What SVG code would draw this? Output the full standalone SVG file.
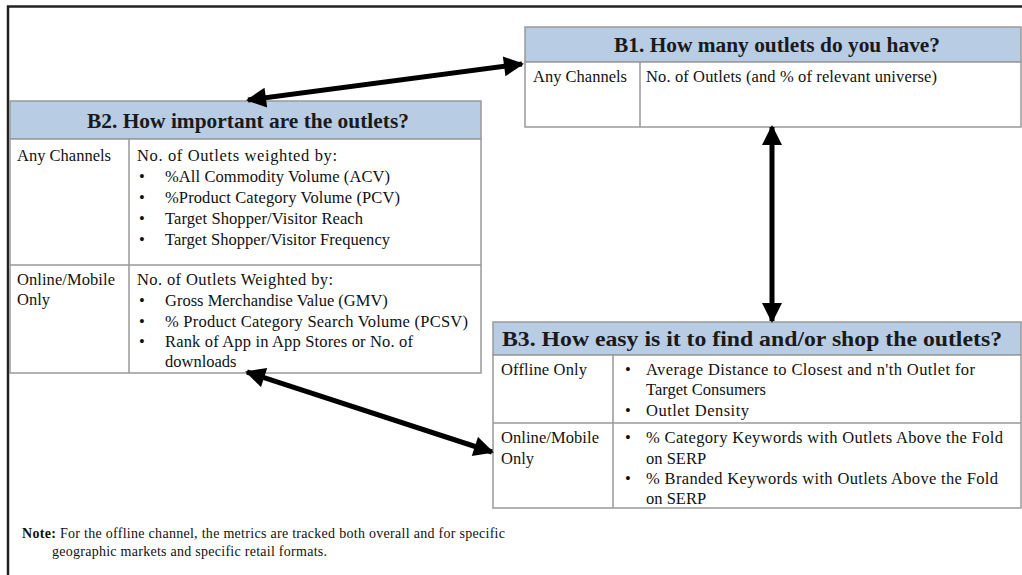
<svg xmlns="http://www.w3.org/2000/svg" width="1022" height="575" viewBox="0 0 1022 575">
<style>
.t{font-family:"Liberation Serif","Times New Roman",serif;font-size:16.5px;fill:#111}
.h{font-family:"Liberation Serif","Times New Roman",serif;font-size:21px;font-weight:bold;fill:#1a1a1a}
.n{font-family:"Liberation Serif","Times New Roman",serif;font-size:14px;fill:#111}
.hd{fill:#b8cce4;stroke:#999;stroke-width:1.5}
.cell{fill:#fff;stroke:#999;stroke-width:1.5}
.ln{stroke:#999;stroke-width:1.5}
.arr{stroke:#000;stroke-width:5;fill:none}
</style>
<defs>
<marker id="ah" viewBox="0 0 10 10" refX="9" refY="5" markerWidth="22" markerHeight="20" markerUnits="userSpaceOnUse" orient="auto-start-reverse">
<path d="M0,0 L10,5 L0,10 z" fill="#000"/>
</marker>
</defs>
<rect x="0" y="0" width="1022" height="575" fill="#fff"/>
<path d="M8,575 L8,6.5 L1022,6.5" fill="none" stroke="#222" stroke-width="2.5"/>

<g id="b1">
<rect class="hd" x="525" y="27" width="496" height="35"/>
<rect class="cell" x="525" y="62" width="496" height="65"/>
<line class="ln" x1="640" y1="62" x2="640" y2="127"/>
<text class="h" x="614" y="52" textLength="326" lengthAdjust="spacingAndGlyphs">B1. How many outlets do you have?</text>
<text class="t" x="533" y="82" textLength="94" lengthAdjust="spacing">Any Channels</text>
<text class="t" x="646" y="82" textLength="291" lengthAdjust="spacing">No. of Outlets (and % of relevant universe)</text>
</g>

<g id="b2">
<rect class="hd" x="10" y="101" width="471" height="38"/>
<rect class="cell" x="10" y="139" width="471" height="234"/>
<line class="ln" x1="10" y1="265" x2="481" y2="265"/>
<line class="ln" x1="129" y1="139" x2="129" y2="373"/>
<text class="h" x="87" y="128" textLength="322" lengthAdjust="spacingAndGlyphs">B2. How important are the outlets?</text>
<text class="t" x="17" y="161" textLength="94" lengthAdjust="spacing">Any Channels</text>
<text class="t" x="137" y="161" textLength="200" lengthAdjust="spacing">No. of Outlets weighted by:</text>
<text class="t" x="139" y="182">•</text><text class="t" x="165" y="182" textLength="225" lengthAdjust="spacing">%All Commodity Volume (ACV)</text>
<text class="t" x="139" y="203">•</text><text class="t" x="165" y="203" textLength="235" lengthAdjust="spacing">%Product Category Volume (PCV)</text>
<text class="t" x="139" y="224">•</text><text class="t" x="165" y="224" textLength="198" lengthAdjust="spacing">Target Shopper/Visitor Reach</text>
<text class="t" x="139" y="245">•</text><text class="t" x="165" y="245" textLength="225" lengthAdjust="spacing">Target Shopper/Visitor Frequency</text>
<text class="t" x="17" y="285" textLength="98" lengthAdjust="spacing">Online/Mobile</text>
<text class="t" x="17" y="305">Only</text>
<text class="t" x="137" y="285" textLength="196" lengthAdjust="spacing">No. of Outlets Weighted by:</text>
<text class="t" x="139" y="306">•</text><text class="t" x="165" y="306">Gross Merchandise Value (GMV)</text>
<text class="t" x="139" y="327">•</text><text class="t" x="165" y="327" textLength="303" lengthAdjust="spacing">% Product Category Search Volume (PCSV)</text>
<text class="t" x="139" y="347">•</text><text class="t" x="165" y="347" textLength="248" lengthAdjust="spacing">Rank of App in App Stores or No. of</text>
<text class="t" x="165" y="367">downloads</text>
</g>

<g id="b3">
<rect class="hd" x="493" y="322" width="528" height="33"/>
<rect class="cell" x="493" y="355" width="528" height="153"/>
<line class="ln" x1="493" y1="423" x2="1021" y2="423"/>
<line class="ln" x1="613" y1="355" x2="613" y2="508"/>
<text class="h" x="502" y="346" textLength="500" lengthAdjust="spacingAndGlyphs">B3. How easy is it to find and/or shop the outlets?</text>
<text class="t" x="501" y="375" textLength="86" lengthAdjust="spacing">Offline Only</text>
<text class="t" x="625" y="375">•</text><text class="t" x="646" y="375" textLength="329" lengthAdjust="spacing">Average Distance to Closest and n'th Outlet for</text>
<text class="t" x="646" y="395">Target Consumers</text>
<text class="t" x="625" y="416">•</text><text class="t" x="646" y="416" textLength="103" lengthAdjust="spacing">Outlet Density</text>
<text class="t" x="501" y="443" textLength="98" lengthAdjust="spacing">Online/Mobile</text>
<text class="t" x="501" y="464">Only</text>
<text class="t" x="625" y="443">•</text><text class="t" x="646" y="443" textLength="357" lengthAdjust="spacing">% Category Keywords with Outlets Above the Fold</text>
<text class="t" x="646" y="464">on SERP</text>
<text class="t" x="625" y="484">•</text><text class="t" x="646" y="484" textLength="352" lengthAdjust="spacing">% Branded Keywords with Outlets Above the Fold</text>
<text class="t" x="646" y="504">on SERP</text>
</g>

<g id="note">
<text class="n" x="22" y="538" textLength="483" lengthAdjust="spacing"><tspan font-weight="bold">Note:</tspan> For the offline channel, the metrics are tracked both overall and for specific</text>
<text class="n" x="52" y="556" textLength="275" lengthAdjust="spacing">geographic markets and specific retail formats.</text>
</g>

<g id="connectors">
<line class="arr" x1="248" y1="100" x2="522" y2="64" marker-start="url(#ah)" marker-end="url(#ah)"/>
<line class="arr" x1="772" y1="127" x2="772" y2="321" marker-start="url(#ah)" marker-end="url(#ah)"/>
<line class="arr" x1="247" y1="372" x2="492" y2="452" marker-start="url(#ah)" marker-end="url(#ah)"/>
</g>
</svg>
